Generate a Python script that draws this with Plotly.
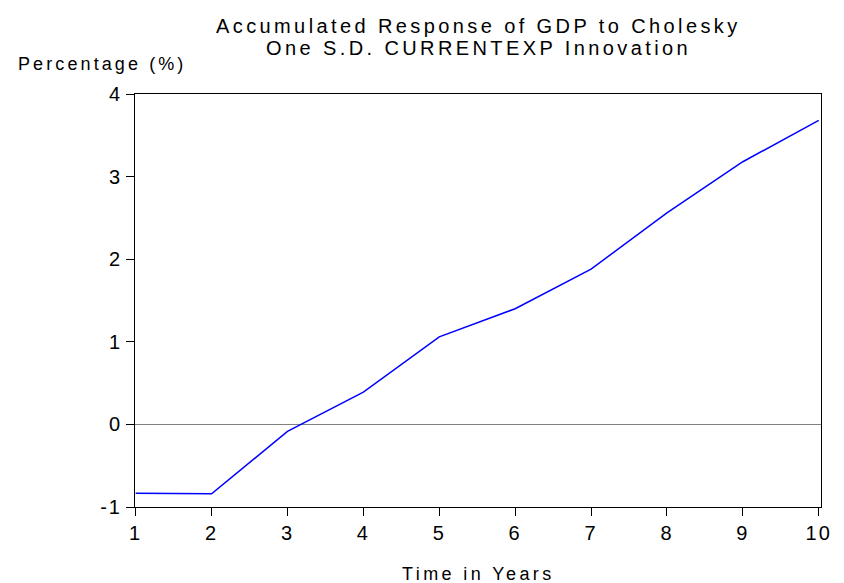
import plotly.graph_objects as go

periods = [1, 2, 3, 4, 5, 6, 7, 8, 9, 10]
response = [-0.835, -0.84, -0.085, 0.39, 1.06, 1.40, 1.88, 2.56, 3.18, 3.68]
y_ticks = [-1, 0, 1, 2, 3, 4]
y_ticklabels = ["-1", "0", "1", "2", "3", "4"]
x_ticks = periods
x_ticklabels = [str(p) for p in periods]

title_lines = ["Accumulated Response of GDP to Cholesky", "One S.D. CURRENTEXP Innovation"]
y_label = "Percentage (%)"
x_label = "Time in Years"

FONT = "Arial, Liberation Sans, sans-serif"

# page offset of the figure div inside the browser page (default body margin)
OFF = 8
W, H = 844 - OFF, 583 - OFF
# reference frame in page pixels
FL, FR, FT, FB = 135, 830, 94, 507
ML, MR, MT, MB = FL - OFF, W - (FR - OFF), FT - OFF, H - (FB - OFF)


def spaced(s, ls):
    return f"<span style='letter-spacing:{ls}px'>{s}</span>"


fig = go.Figure()
fig.add_trace(go.Scatter(x=periods, y=response, mode="lines",
                         line=dict(color="#0000FF", width=1.5), showlegend=False,
                         hoverinfo="skip"))

fig.update_layout(
    width=W, height=H,
    margin=dict(l=ML, r=MR, t=MT, b=MB, pad=0),
    paper_bgcolor="white", plot_bgcolor="white",
    font=dict(family=FONT, size=20, color="black"),
    xaxis=dict(range=[0.991, 10.03], tickvals=x_ticks,
               ticktext=[spaced(t, 2) for t in x_ticklabels],
               ticks="outside", ticklen=8,
               tickcolor="black", showline=True, linecolor="black", linewidth=1,
               mirror=True, showgrid=False, zeroline=False,
               tickfont=dict(size=20)),
    yaxis=dict(range=[-1, 4], tickvals=y_ticks,
               ticktext=[spaced(t, 2) for t in y_ticklabels],
               ticks="outside", ticklen=8,
               tickcolor="black", showline=True, linecolor="black", linewidth=1,
               mirror=True, showgrid=False, zeroline=True, zerolinecolor="#808080",
               zerolinewidth=1, tickfont=dict(size=20)),
)

pw = W - ML - MR
ph = H - MT - MB


def to_paper_y(page_y):
    return (H - MB - (page_y - OFF)) / ph


def to_paper_x(page_x):
    return (page_x - OFF - ML) / pw


fig.add_annotation(text=spaced(title_lines[0], 3.4), x=0.5, y=to_paper_y(26),
                   xref="paper", yref="paper", showarrow=False, yanchor="middle",
                   font=dict(size=20))
fig.add_annotation(text=spaced(title_lines[1], 3.4), x=0.5, y=to_paper_y(47.5),
                   xref="paper", yref="paper", showarrow=False, yanchor="middle",
                   font=dict(size=20))
fig.add_annotation(text=spaced(y_label, 3.1), x=to_paper_x(14), y=to_paper_y(64),
                   xref="paper", yref="paper", showarrow=False, xanchor="left",
                   yanchor="middle", font=dict(size=18))
fig.add_annotation(text=spaced(x_label, 3.4), x=0.5, y=to_paper_y(574),
                   xref="paper", yref="paper", showarrow=False, yanchor="middle",
                   font=dict(size=18))

fig.write_html("out.html")
